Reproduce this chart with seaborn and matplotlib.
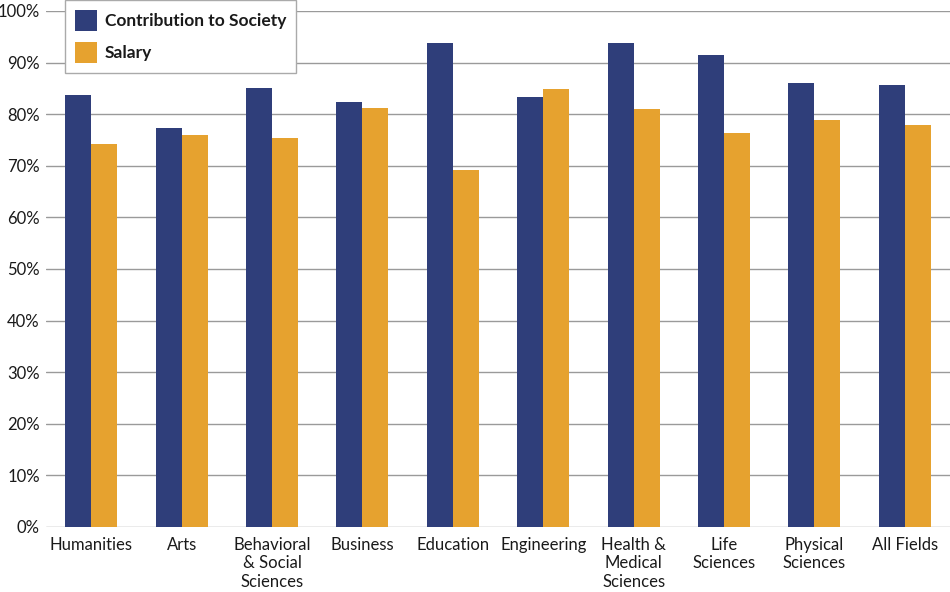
import pandas as pd
import matplotlib.pyplot as plt
import seaborn as sns
from matplotlib.ticker import MultipleLocator, PercentFormatter

# data
fields = ['Humanities', 'Arts', 'Behavioral\n& Social\nSciences', 'Business', 'Education',
          'Engineering', 'Health &\nMedical\nSciences', 'Life\nSciences', 'Physical\nSciences',
          'All Fields']
contribution = [83.7, 77.3, 85.1, 82.3, 93.8, 83.4, 93.8, 91.5, 86.0, 85.7]
salary = [74.3, 75.9, 75.4, 81.1, 69.1, 84.9, 80.9, 76.4, 78.9, 77.9]

series_names = ['Contribution to Society', 'Salary']
colors = ['#2f3e7a', '#e6a22f']

df = pd.DataFrame({'field': fields, series_names[0]: contribution, series_names[1]: salary})
df = df.melt(id_vars='field', var_name='series', value_name='pct')

# plot
sns.set_style("white")
plt.rcParams['font.family'] = ['Lato', 'DejaVu Sans']

fig = plt.figure(figsize=(9.5, 5.92), dpi=100)
ax = fig.add_axes([0.0484, 0.1098, 0.9516, 0.8718])

sns.barplot(data=df, x='field', y='pct', hue='series', palette=colors,
            width=0.576, saturation=1, linewidth=0, ax=ax, zorder=3)

ax.set_ylim(0, 100)
ax.set_xlim(-0.5, len(fields) - 0.5)
ax.yaxis.set_major_locator(MultipleLocator(10))
ax.yaxis.set_major_formatter(PercentFormatter(decimals=0))
ax.grid(axis='y', color='#9a9a9a', linewidth=1, zorder=0)
ax.grid(axis='x', visible=False)
for s in ax.spines.values():
    s.set_visible(False)

ax.set_xlabel(None)
ax.set_ylabel(None)
ax.tick_params(axis='both', length=0, labelsize=12, colors='#1a1a1a')
ax.tick_params(axis='y', pad=4.5)
ax.tick_params(axis='x', pad=7)
for lbl in ax.get_xticklabels():
    lbl.set_linespacing(1.2)

handles, labels = ax.get_legend_handles_labels()
ax.legend_.remove()
leg = fig.legend(handles, labels, loc='upper left', bbox_to_anchor=(0.0684, 1.0),
                 borderaxespad=0, frameon=True, fancybox=False, edgecolor='#aaaaaa',
                 framealpha=1, handlelength=1.3, handleheight=1.55, handletextpad=0.45,
                 borderpad=0.55, labelspacing=0.6, prop={'size': 12.5, 'weight': 'bold'})
leg.get_frame().set_linewidth(1)
for t in leg.get_texts():
    t.set_color('#1a1a1a')

plt.savefig('out.png', dpi=100)
